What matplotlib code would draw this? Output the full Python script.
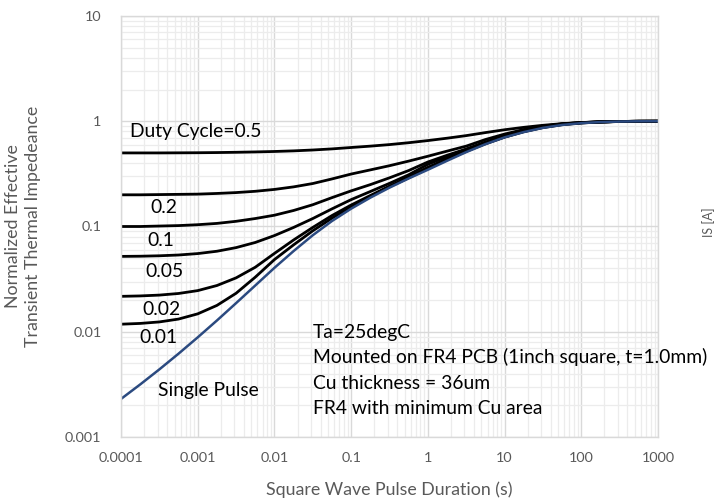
import numpy as np
import matplotlib
matplotlib.use("Agg")
import matplotlib.pyplot as plt
from matplotlib.ticker import LogLocator, NullFormatter, FixedLocator

plt.rcParams['font.family'] = ['Lato', 'DejaVu Sans']

# pulse duration (s), four samples per decade
pulse_t = [1e-4, 1.78e-4, 3.16e-4, 5.62e-4,
           1e-3, 1.78e-3, 3.16e-3, 5.62e-3,
           1e-2, 1.78e-2, 3.16e-2, 5.62e-2,
           0.1, 0.178, 0.316, 0.562,
           1, 1.78, 3.16, 5.62,
           10, 17.8, 31.6, 56.2,
           100, 178, 316, 562,
           1000]

# normalized effective transient thermal impedance, one list per duty cycle
z_d50 = [0.500, 0.500, 0.500, 0.501, 0.502, 0.504, 0.507, 0.511,
         0.516, 0.523, 0.533, 0.546, 0.563, 0.580, 0.600, 0.625,
         0.655, 0.690, 0.730, 0.780, 0.830, 0.875, 0.915, 0.948,
         0.972, 0.987, 0.995, 0.999, 1.0]
z_d20 = [0.200, 0.200, 0.201, 0.202, 0.203, 0.206, 0.210, 0.216,
         0.225, 0.238, 0.256, 0.283, 0.315, 0.345, 0.378, 0.418,
         0.465, 0.520, 0.580, 0.670, 0.755, 0.835, 0.900, 0.945,
         0.971, 0.986, 0.995, 0.999, 1.0]
z_d10 = [0.100, 0.100, 0.101, 0.102, 0.104, 0.107, 0.112, 0.119,
         0.128, 0.142, 0.161, 0.188, 0.218, 0.250, 0.290, 0.340,
         0.410, 0.475, 0.545, 0.635, 0.725, 0.815, 0.890, 0.942,
         0.970, 0.986, 0.995, 0.999, 1.0]
z_d05 = [0.0520, 0.0522, 0.0527, 0.0536, 0.0553, 0.0582, 0.0630, 0.0705,
         0.082, 0.098, 0.119, 0.147, 0.180, 0.215, 0.257, 0.310,
         0.390, 0.460, 0.535, 0.625, 0.715, 0.810, 0.887, 0.940,
         0.969, 0.985, 0.995, 0.999, 1.0]
z_d02 = [0.0217, 0.0219, 0.0223, 0.0231, 0.0246, 0.0275, 0.0325, 0.0410,
         0.0555, 0.0745, 0.098, 0.127, 0.160, 0.197, 0.242, 0.295,
         0.365, 0.440, 0.525, 0.615, 0.710, 0.800, 0.875, 0.932,
         0.965, 0.984, 0.994, 0.999, 1.0]
z_d01 = [0.0118, 0.0120, 0.0124, 0.0132, 0.0148, 0.0178, 0.0232, 0.0330,
         0.0485, 0.067, 0.091, 0.120, 0.154, 0.193, 0.238, 0.290,
         0.357, 0.432, 0.517, 0.610, 0.706, 0.795, 0.870, 0.927,
         0.962, 0.983, 0.994, 0.999, 1.0]
z_single = [0.00230, 0.00316, 0.00439, 0.00619, 0.00885, 0.0128, 0.0187, 0.0275,
            0.0405, 0.0585, 0.0826, 0.1127, 0.1477, 0.188, 0.234, 0.286,
            0.346, 0.421, 0.509, 0.605, 0.703, 0.789, 0.865, 0.922,
            0.959, 0.982, 0.993, 0.999, 1.0]

duty_curves = [z_d50, z_d20, z_d10, z_d05, z_d02, z_d01]
duty_labels = ["Duty Cycle=0.5", "0.2", "0.1", "0.05", "0.02", "0.01"]
label_pos = [(1.31e-4, 0.80), (3.64e-4, 0.152), (3.27e-4, 0.074),
             (3.64e-4, 0.0376), (3.33e-4, 0.0164), (3.08e-4, 0.00887)]

x_ticks = [1e-4, 1e-3, 1e-2, 1e-1, 1, 10, 100, 1000]
x_ticklabels = ["0.0001", "0.001", "0.01", "0.1", "1", "10", "100", "1000"]
y_ticks = [1e-3, 1e-2, 1e-1, 1, 10]
y_ticklabels = ["0.001", "0.01", "0.1", "1", "10"]

notes = ["Ta=25degC",
         "Mounted on FR4 PCB (1inch square, t=1.0mm)",
         "Cu thickness = 36um",
         "FR4 with minimum Cu area"]

gray = "#595959"
fs_note = 13.9

fig = plt.figure(figsize=(7.19, 4.99), dpi=100)
ax = fig.add_axes([0.1683, 0.1242, 0.7469, 0.8438])
ax.set_xscale("log")
ax.set_yscale("log")
ax.set_xlim(1e-4, 1000)
ax.set_ylim(1e-3, 10)

ax.xaxis.set_major_locator(FixedLocator(x_ticks))
ax.set_xticklabels(x_ticklabels)
ax.yaxis.set_major_locator(FixedLocator(y_ticks))
ax.set_yticklabels(y_ticklabels)
for axis in (ax.xaxis, ax.yaxis):
    axis.set_minor_locator(LogLocator(base=10, subs=np.arange(2, 10), numticks=20))
    axis.set_minor_formatter(NullFormatter())

ax.grid(which="major", color="#D9D9D9", lw=1.0)
ax.grid(which="minor", color="#ECECEC", lw=0.9)
ax.set_axisbelow(True)
ax.tick_params(which="both", length=0, labelsize=10.4, colors=gray)
ax.tick_params(axis="y", pad=14)
ax.tick_params(axis="x", pad=11)
for sp in ax.spines.values():
    sp.set_color("#D9D9D9")
    sp.set_linewidth(1.0)

for z in duty_curves:
    ax.plot(pulse_t, z, color="black", lw=2.0, solid_capstyle="butt", solid_joinstyle="round")
ax.plot(pulse_t, z_single, color="#2B4A80", lw=1.8, solid_capstyle="butt", solid_joinstyle="round")

for txt, (tx, ty) in zip(duty_labels, label_pos):
    ha = "left" if txt.startswith("Duty") else "center"
    ax.text(tx, ty, txt, fontsize=fs_note, ha=ha, va="center", color="black")
ax.text(3.03e-4, 0.00278, "Single Pulse", fontsize=fs_note, ha="left", va="center", color="black")

note_y = [0.2494, 0.19, 0.128, 0.0689]
for txt, ny in zip(notes, note_y):
    ax.text(0.3575, ny, txt, transform=ax.transAxes, fontsize=fs_note,
            ha="left", va="center", color="black", clip_on=False)

ax.set_xlabel("Square Wave Pulse Duration (s)", fontsize=12.8, color=gray)
ax.xaxis.set_label_coords(0.5, -0.126)
ax.xaxis.label.set_va("center")
ax.set_ylabel("Normalized Effective\nTransient Thermal Impedeance", fontsize=12.8,
              color=gray, linespacing=1.25)
ax.yaxis.set_label_coords(-0.1825, 0.5)
ax.yaxis.label.set_va("center")

# edge of the neighbouring chart's axis title
fig.text(0.986, 0.555, "IS [A]", rotation=90, fontsize=9, color=gray,
         ha="center", va="center")

fig.savefig("out.png", dpi=100)
